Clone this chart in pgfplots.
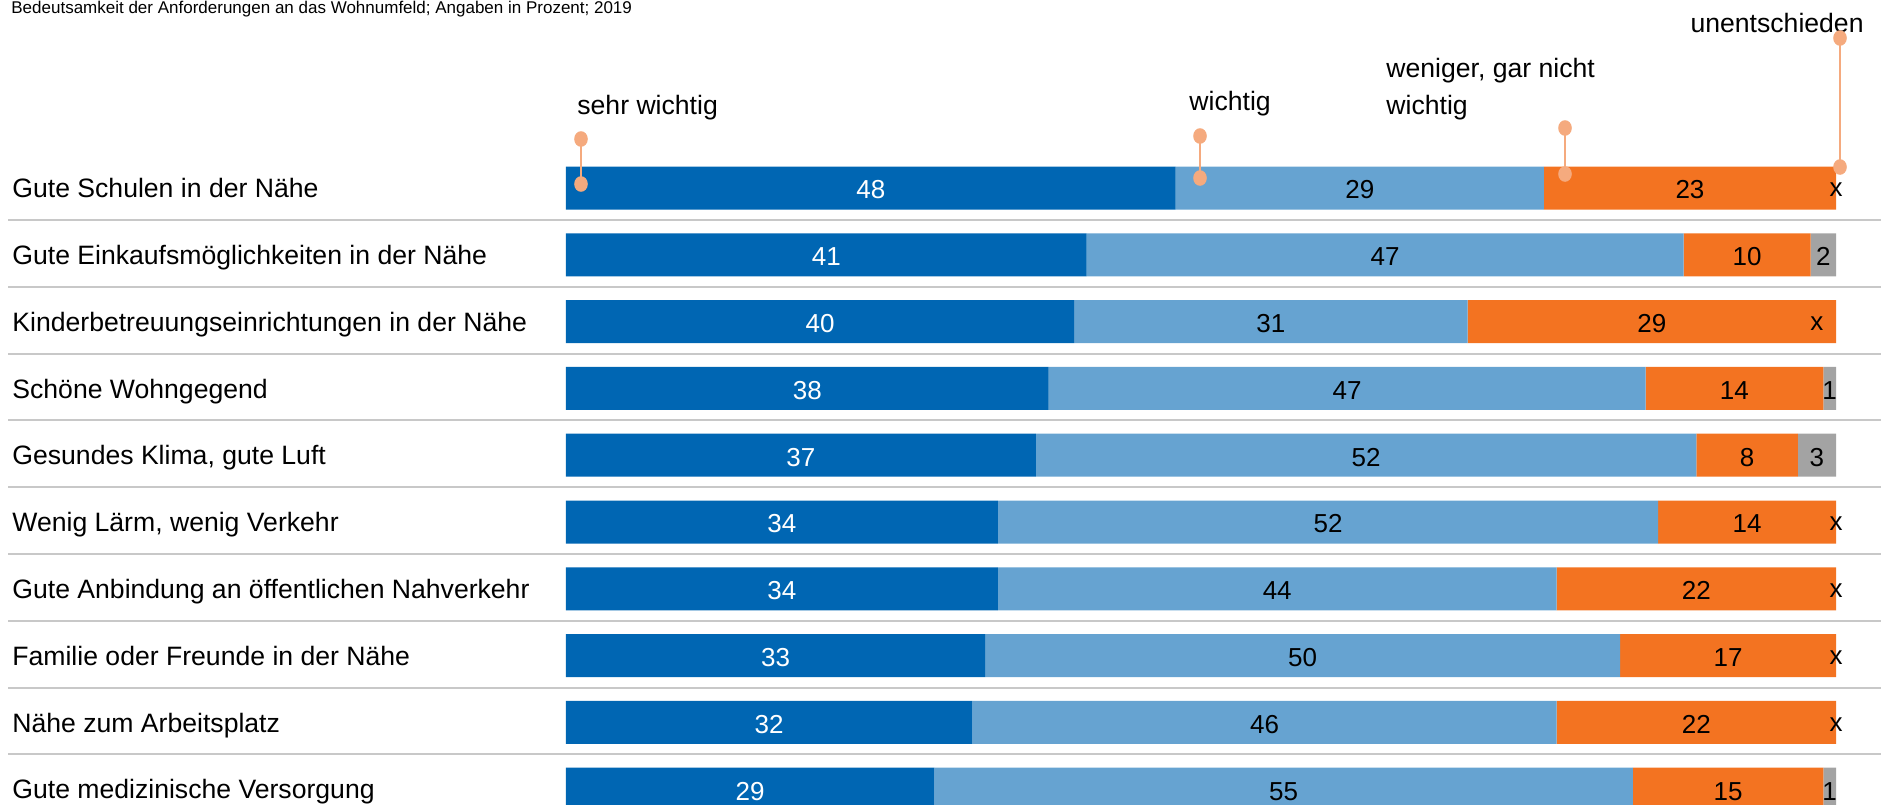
\documentclass[border=0pt]{standalone}
\usepackage{pgfplots}
\pgfplotsset{compat=1.18}
\usepackage{pgfplotstable}
\usepackage{fontspec}
\setmainfont{Liberation Sans}
\definecolor{dblue}{HTML}{0066B3}
\definecolor{lblue}{HTML}{66A3D1}
\definecolor{orng}{HTML}{F37321}
\definecolor{gry}{HTML}{A3A3A3}
\definecolor{callout}{HTML}{F5AA7E}
\definecolor{sepc}{HTML}{C8C8C8}
\pgfplotstableread{
row a b c d dl off
0 48 29 23 0 x 0
1 41 47 10 2 2 0
2 40 31 29 0 x -1.5
3 38 47 14 1 1 0
4 37 52 8 3 3 0
5 34 52 14 0 x 0
6 34 44 22 0 x 0
7 33 50 17 0 x 0
8 32 46 22 0 x 0
9 29 55 15 1 1 0
}\datatable
\pgfplotstablecreatecol[create col/expr={\thisrow{a}/2}]{ca}\datatable
\pgfplotstablecreatecol[create col/expr={\thisrow{a}+\thisrow{b}/2}]{cb}\datatable
\pgfplotstablecreatecol[create col/expr={\thisrow{a}+\thisrow{b}+\thisrow{c}/2}]{cc}\datatable
\pgfplotstablecreatecol[create col/expr={\thisrow{a}+\thisrow{b}+\thisrow{c}+\thisrow{d}/2+\thisrow{off}}]{cd}\datatable
\pgfplotsset{
  common/.style={
    at={(283pt,-77.3pt)}, anchor=north west,
    scale only axis, width=635pt, height=334pt,
    xmin=0, xmax=100, ymin=-0.5, ymax=9.5, y dir=reverse, clip=false,
  },
  lab/.style={only marks, mark=none, nodes near coords, point meta=explicit symbolic,
    nodes near coords align={center},
    every node near coord/.append style={anchor=center, inner sep=0pt, yshift=-1pt,
      font=\fontsize{13}{15}\selectfont, text=#1}},
}
\begin{document}
\begin{tikzpicture}
\begin{axis}[common,
  xbar stacked, bar width=21.5pt,
  axis line style={draw=none}, major tick length=0pt,
  xtick=\empty, ytick={0,...,9},
  yticklabels={Gute Schulen in der Nähe,
    Gute Einkaufsmöglichkeiten in der Nähe,
    Kinderbetreuungseinrichtungen in der Nähe,
    Schöne Wohngegend,
    {Gesundes Klima, gute Luft},
    {Wenig Lärm, wenig Verkehr},
    Gute Anbindung an öffentlichen Nahverkehr,
    Familie oder Freunde in der Nähe,
    Nähe zum Arbeitsplatz,
    Gute medizinische Versorgung},
  yticklabel style={anchor=base west, xshift=-277pt, yshift=-4.8pt, inner sep=0pt,
    font=\fontsize{13.3}{16}\selectfont},
]
\pgfplotsinvokeforeach{0,...,8}{
  \draw[sepc, line width=1pt] (axis cs:-43.9,#1+0.48) -- (axis cs:103.6,#1+0.48);
}
\addplot[fill=dblue, draw=none] table[x=a, y=row] {\datatable};
\addplot[fill=lblue, draw=none] table[x=b, y=row] {\datatable};
\addplot[fill=orng, draw=none] table[x=c, y=row] {\datatable};
\addplot[fill=gry, draw=none] table[x=d, y=row] {\datatable};
\end{axis}
\begin{axis}[common, hide axis]
\addplot[lab=white] table[x=ca, y=row, meta=a] {\datatable};
\addplot[lab=black] table[x=cb, y=row, meta=b] {\datatable};
\addplot[lab=black] table[x=cc, y=row, meta=c] {\datatable};
\addplot[lab=black] table[x=cd, y=row, meta=dl] {\datatable};
\end{axis}
\begin{scope}[x=0.5pt, y=-0.5pt]
  \node[anchor=base west, inner sep=0pt, font=\fontsize{8.5}{10}\selectfont] at (11,13)
    {Bedeutsamkeit der Anforderungen an das Wohnumfeld; Angaben in Prozent; 2019};
  \begin{scope}[every node/.style={inner sep=0pt, font=\fontsize{13.3}{16}\selectfont}]
    \node[anchor=base west] at (577,114) {sehr wichtig};
    \node[anchor=base west] at (1189,110) {wichtig};
    \node[anchor=base west] at (1386,77) {weniger, gar nicht};
    \node[anchor=base west] at (1386,114) {wichtig};
    \node[anchor=base east] at (1864,32) {unentschieden};
  \end{scope}
  \foreach \cx/\ta/\tb in {581/139/184, 1200/136/178, 1565/128/174, 1840/38/167}{
    \draw[callout, line width=1pt] (\cx,\ta) -- (\cx,\tb);
    \fill[callout] (\cx,\ta) ellipse[x radius=3.4pt, y radius=3.9pt];
    \fill[callout] (\cx,\tb) ellipse[x radius=3.4pt, y radius=3.9pt];
  }
\end{scope}
\pgfresetboundingbox
\useasboundingbox (0pt,0pt) rectangle (940.5pt,-402pt);
\end{tikzpicture}
\end{document}
